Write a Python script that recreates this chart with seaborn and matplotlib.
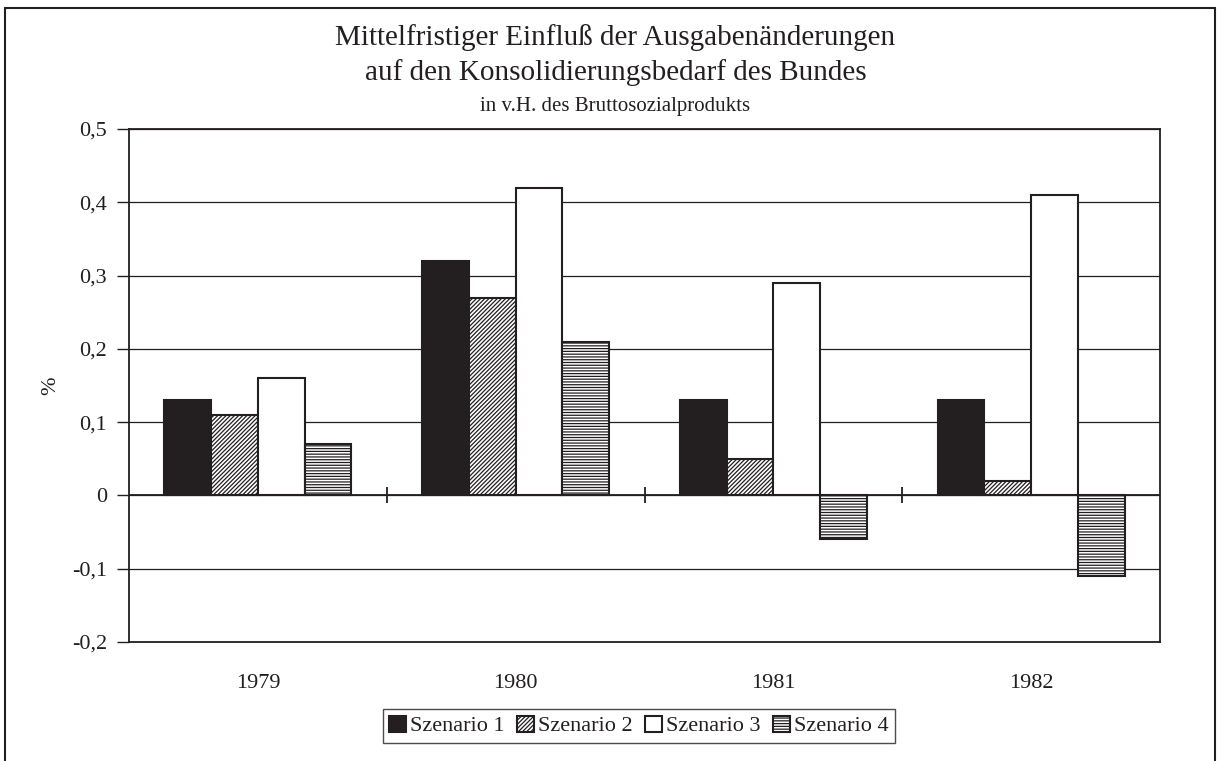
import matplotlib
matplotlib.use("Agg")
import matplotlib.pyplot as plt
import matplotlib.ticker as mticker
from matplotlib.patches import Rectangle
import seaborn as sns
import pandas as pd

years = ["1979", "1980", "1981", "1982"]
scenarios = ["Szenario 1", "Szenario 2", "Szenario 3", "Szenario 4"]
s1 = [0.13, 0.32, 0.13, 0.13]
s2 = [0.11, 0.27, 0.05, 0.02]
s3 = [0.16, 0.42, 0.29, 0.41]
s4 = [0.07, 0.21, -0.06, -0.11]
yticks = [-0.2, -0.1, 0.0, 0.1, 0.2, 0.3, 0.4, 0.5]
ytick_labels = ["-0,2", "-0,1", "0", "0,1", "0,2", "0,3", "0,4", "0,5"]

rows = []
for name, vals in zip(scenarios, [s1, s2, s3, s4]):
    for y, v in zip(years, vals):
        rows.append({"Jahr": y, "Wert": v, "Szenario": name})
df = pd.DataFrame(rows)

sns.set_theme(style="white")
plt.rcParams["font.family"] = ["Liberation Serif", "DejaVu Serif"]
plt.rcParams["hatch.linewidth"] = 0.9

INK = "#231f20"
fig = plt.figure(figsize=(12.21, 7.61), dpi=100)
ax = fig.add_axes([129/1221, 1-642/761, (1160-129)/1221, (642-129)/761])

facecolors = [INK, "white", "white", "white"]
hatches = [None, "////////", None, "------"]

sns.barplot(data=df, x="Jahr", y="Wert", hue="Szenario", order=years,
            hue_order=scenarios, palette=facecolors, edgecolor=INK,
            linewidth=1.5, width=0.725, saturation=1, ax=ax, legend=True,
            zorder=3)

for cont, h in zip(ax.containers, hatches):
    for bar in cont:
        if h:
            bar.set_hatch(h)

ax.set_ylim(-0.2, 0.5)
ax.set_xlim(-0.5, 3.5)
ax.set_yticks(yticks)
ax.yaxis.set_major_formatter(mticker.FixedFormatter(ytick_labels))
ax.yaxis.grid(True, color=INK, linewidth=0.9, zorder=0)
ax.set_axisbelow(True)
ax.tick_params(axis="y", which="major", left=True, length=9, width=1,
               color=INK, labelsize=16, pad=7, direction="out")
ax.tick_params(axis="x", which="major", bottom=False, labelsize=16, pad=17)
for lab in ax.get_yticklabels() + ax.get_xticklabels():
    lab.set_color(INK)

for sp in ax.spines.values():
    sp.set_visible(True)
    sp.set_color(INK)
    sp.set_linewidth(1.3)

ax.axhline(0, color=INK, linewidth=1.3, zorder=4)
ax.vlines([0.5, 1.5, 2.5], -0.011, 0.011, color=INK, linewidth=1.3, zorder=4)

ax.set_xlabel("")
ax.set_ylabel("%", fontsize=16, color=INK, labelpad=8)

leg = ax.get_legend()
handles = leg.legend_handles
ax.legend_.remove()
for hd, h in zip(handles, hatches):
    hd.set_edgecolor(INK)
    if h:
        hd.set_hatch(h)
lg = fig.legend(handles, scenarios, loc="center", bbox_to_anchor=(639/1221, 1-726/761),
                ncol=4, frameon=True, fancybox=False, fontsize=16,
                handlelength=0.75, handleheight=0.75, handletextpad=0.2,
                columnspacing=0.55, borderpad=0.3, borderaxespad=0)
lg.get_frame().set_edgecolor(INK)
lg.get_frame().set_linewidth(1.0)
for t in lg.get_texts():
    t.set_color(INK)

fig.text(0.504, 1-38/761, "Mittelfristiger Einfluß der Ausgabenänderungen",
         ha="center", va="center", fontsize=21, color=INK)
fig.text(0.504, 1-73/761, "auf den Konsolidierungsbedarf des Bundes",
         ha="center", va="center", fontsize=21, color=INK)
fig.text(0.504, 1-106/761, "in v.H. des Bruttosozialprodukts",
         ha="center", va="center", fontsize=15, color=INK)

fig.patches.append(Rectangle((5/1221, -0.05), 1210/1221, 1 - 8/761 + 0.05,
                             transform=fig.transFigure, fill=False,
                             edgecolor=INK, linewidth=1.5))

fig.savefig("out.png", dpi=100, facecolor="white")
